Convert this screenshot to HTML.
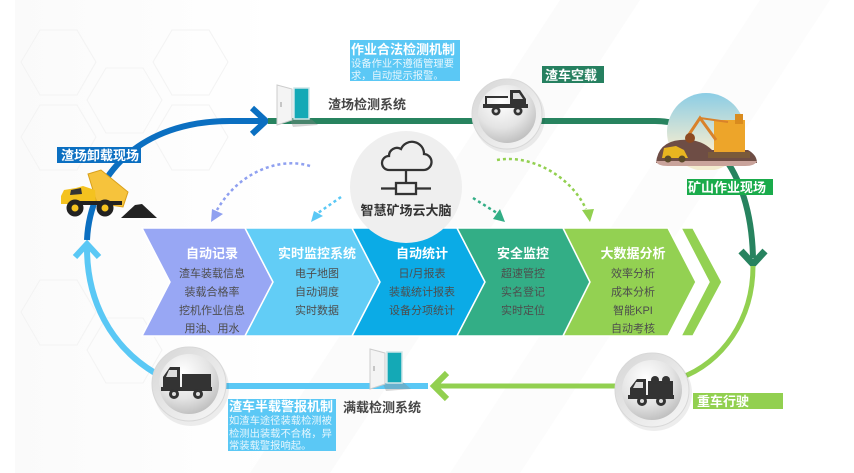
<!DOCTYPE html>
<html><head><meta charset="utf-8">
<style>
html,body{margin:0;padding:0;background:#fff;}
svg{display:block;}
text{font-family:"Liberation Sans","Noto Sans CJK SC",sans-serif;}
.t{font-size:13px;font-weight:bold;fill:#fff;}
.it{font-size:11px;fill:#4d4d4d;text-anchor:middle;}
.ct{font-size:13px;font-weight:bold;fill:#fff;text-anchor:middle;}
.sm{font-size:10.3px;fill:#e6f6fd;}
.lb{font-size:13px;font-weight:bold;fill:#454545;}
</style></head><body>
<svg width="854" height="473" viewBox="0 0 854 473" xmlns="http://www.w3.org/2000/svg">
<defs>
 <radialGradient id="ball" cx="0.4" cy="0.3" r="0.8">
  <stop offset="0" stop-color="#ffffff"/>
  <stop offset="0.55" stop-color="#e4e4e4"/>
  <stop offset="1" stop-color="#b5b5b5"/>
 </radialGradient>
 <linearGradient id="ring" x1="0" y1="0" x2="1" y2="1">
  <stop offset="0" stop-color="#d6d6d6"/>
  <stop offset="1" stop-color="#f7f7f7"/>
 </linearGradient>
 <linearGradient id="sky" x1="0" y1="0" x2="0" y2="1">
  <stop offset="0" stop-color="#86cbe6"/>
  <stop offset="0.75" stop-color="#f4ecd0"/>
 </linearGradient>
 <linearGradient id="bg" x1="0" y1="0" x2="1" y2="0">
  <stop offset="0" stop-color="#f7f7f7"/>
  <stop offset="1" stop-color="#ffffff"/>
 </linearGradient>
 <clipPath id="dome"><circle cx="706" cy="132" r="39"/></clipPath>
</defs>

<!-- background -->
<rect x="0" y="0" width="854" height="473" fill="#fff"/>
<rect x="15" y="0" width="260" height="473" fill="url(#bg)" opacity="0.6"/>
<polygon points="560,0 640,0 330,473 250,473" fill="#fbfbfb"/>
<polygon points="760,0 830,0 520,473 450,473" fill="#fcfcfc"/>
<g fill="none" stroke="#f3f3f3" stroke-width="1">
 <polygon points="40,30 77,30 96,62 77,95 40,95 21,62"/>
 <polygon points="106,68 143,68 162,100 143,133 106,133 87,100"/>
 <polygon points="172,30 209,30 228,62 209,95 172,95 153,62"/>
 <polygon points="40,105 77,105 96,137 77,170 40,170 21,137"/>
 <polygon points="40,280 77,280 96,312 77,345 40,345 21,312"/>
 <polygon points="106,318 143,318 162,350 143,383 106,383 87,350"/>
 <polygon points="172,105 209,105 228,137 209,170 172,170 153,137"/>
</g>

<!-- loop lines -->
<path d="M155 373 C110 346 87 300 87 248" fill="none" stroke="#5ac8f5" stroke-width="6"/>
<polyline points="75,257 87,244 99,257" fill="none" stroke="#5ac8f5" stroke-width="6"/>
<path d="M87 240 C90 175 140 121 230 121 L262 121" fill="none" stroke="#0b6fc1" stroke-width="6"/>
<polyline points="252,108 266,121 252,134" fill="none" stroke="#0b6fc1" stroke-width="6"/>
<path d="M268 121 L655 121 C705 121 751 165 753 258" fill="none" stroke="#27835f" stroke-width="6"/>
<polyline points="741,251 753,264 765,251" fill="none" stroke="#27835f" stroke-width="7"/>
<path d="M753 266 C753 320 722 363 680 378" fill="none" stroke="#92d050" stroke-width="5"/>
<line x1="620" y1="386" x2="436" y2="386" stroke="#92d050" stroke-width="5"/>
<polyline points="447,373 434,386 447,399" fill="none" stroke="#92d050" stroke-width="6"/>
<line x1="428" y1="386" x2="220" y2="386" stroke="#5ac8f5" stroke-width="6"/>

<!-- chevrons -->
<g stroke="#fff" stroke-width="1.5">
 <polygon points="142,228 245,228 273,282 245,336 142,336 170,282" fill="#98a7f4"/>
 <polygon points="245,228 352,228 380,282 352,336 245,336 273,282" fill="#62cdf6"/>
 <polygon points="352,228 457,228 485,282 457,336 352,336 380,282" fill="#0babe6"/>
 <polygon points="457,228 563,228 590,282 563,336 457,336 485,282" fill="#33ae86"/>
 <polygon points="563,228 668,228 696,282 668,336 563,336 590,282" fill="#93d152"/>
 <polygon points="681,228 693,228 722,282 693,336 681,336 709,282" fill="#93d152"/>
</g>

<!-- central circle -->
<circle cx="406" cy="187" r="56" fill="#efefef"/>
<g fill="none" stroke="#333" stroke-width="2.3">
 <path d="M389 170 H423 A8 8 0 0 0 424 154 A12 12 0 0 0 401 149 A8 8 0 0 0 389 156 A7 7 0 0 0 389 170 Z"/>
 <line x1="406" y1="170" x2="406" y2="183"/>
 <rect x="396" y="183" width="20" height="11"/>
 <line x1="381" y1="188.5" x2="396" y2="188.5"/>
 <line x1="416" y1="188.5" x2="431" y2="188.5"/>
</g>
<text x="406" y="215" text-anchor="middle" style="font-size:13px;font-weight:bold;fill:#333">智慧矿场云大脑</text>

<!-- chevron texts -->
<text class="ct" x="212" y="258">自动记录</text>
<text class="it" x="212" y="277">渣车装载信息</text>
<text class="it" x="212" y="295.5">装载合格率</text>
<text class="it" x="212" y="314">挖机作业信息</text>
<text class="it" x="212" y="332">用油、用水</text>

<text class="ct" x="317" y="258">实时监控系统</text>
<text class="it" x="317" y="277">电子地图</text>
<text class="it" x="317" y="295.5">自动调度</text>
<text class="it" x="317" y="314">实时数据</text>

<text class="ct" x="422" y="258">自动统计</text>
<text class="it" x="422" y="277">日/月报表</text>
<text class="it" x="422" y="295.5">装载统计报表</text>
<text class="it" x="422" y="314">设备分项统计</text>

<text class="ct" x="523" y="258">安全监控</text>
<text class="it" x="523" y="277">超速管控</text>
<text class="it" x="523" y="295.5">实名登记</text>
<text class="it" x="523" y="314">实时定位</text>

<text class="ct" x="633" y="258">大数据分析</text>
<text class="it" x="633" y="277">效率分析</text>
<text class="it" x="633" y="295.5">成本分析</text>
<text class="it" x="633" y="314">智能KPI</text>
<text class="it" x="633" y="332">自动考核</text>

<!-- dotted arrows -->
<g fill="none" stroke-width="2.5" stroke-dasharray="3 3">
 <path d="M310 166 C282 157 240 170 217 210" stroke="#8fa0f0"/>
 <path d="M341 197 L318 213" stroke="#5ac8f5"/>
 <path d="M473 198 L497 213" stroke="#33ae86"/>
 <path d="M497 160 C530 154 570 175 586 209" stroke="#92d050"/>
</g>
<polygon points="211,222 212,209 223,214" fill="#8fa0f0"/>
<polygon points="311,222 314,211 323,216" fill="#5ac8f5"/>
<polygon points="505,222 493,219 500,209" fill="#33ae86"/>
<polygon points="590,222 582,210 594,209" fill="#92d050"/>

<!-- doors -->
<g>
 <polygon points="290,120 310,118 318,125 293,127" fill="#888" opacity="0.35"/>
 <rect x="294" y="88" width="15" height="31" fill="#14a9b6" stroke="#cfe6e8" stroke-width="1.5"/>
 <polygon points="277,85 292,89 292,120 277,125" fill="#f4f4f4" stroke="#cccccc" stroke-width="1"/>
 <line x1="281" y1="102" x2="281" y2="107" stroke="#999" stroke-width="1"/>
</g>
<g transform="translate(93,264)">
 <polygon points="290,120 310,118 318,125 293,127" fill="#888" opacity="0.35"/>
 <rect x="294" y="88" width="15" height="31" fill="#14a9b6" stroke="#cfe6e8" stroke-width="1.5"/>
 <polygon points="277,85 292,89 292,120 277,125" fill="#f4f4f4" stroke="#cccccc" stroke-width="1"/>
 <line x1="281" y1="102" x2="281" y2="107" stroke="#999" stroke-width="1"/>
</g>

<!-- truck circles -->
<g>
 <circle cx="509" cy="117" r="36" fill="#000" opacity="0.07"/>
 <circle cx="507" cy="114" r="35" fill="url(#ring)" stroke="#d8d8d8" stroke-width="1"/>
 <circle cx="507" cy="114" r="29" fill="url(#ball)"/>
 <path d="M510 90 H520 L526 99 V106 H510 Z" fill="#333"/>
 <polygon points="513,93 519,93 523,99 513,99" fill="#ddd"/>
 <path d="M486 96 V105 H510 M486 97 H508" fill="none" stroke="#333" stroke-width="2"/>
 <rect x="483" y="104" width="45" height="4" fill="#333"/>
 <circle cx="496" cy="111" r="4.5" fill="#333"/><circle cx="496" cy="111" r="1.8" fill="#ddd"/>
 <circle cx="518" cy="111" r="4.5" fill="#333"/><circle cx="518" cy="111" r="1.8" fill="#ddd"/>
</g>
<g>
 <circle cx="191" cy="388" r="38" fill="#000" opacity="0.07"/>
 <circle cx="189" cy="384" r="37" fill="url(#ring)" stroke="#d8d8d8" stroke-width="1"/>
 <circle cx="189" cy="384" r="30" fill="url(#ball)"/>
 <path d="M180 367 H170 L163 377 V389 H180 Z" fill="#333"/>
 <polygon points="169,370 177,370 177,377 166,377" fill="#ddd"/>
 <rect x="182" y="374" width="29" height="14" fill="#333"/>
 <rect x="161" y="387" width="51" height="4" fill="#333"/>
 <circle cx="174" cy="394" r="5" fill="#333"/><circle cx="174" cy="394" r="2" fill="#ddd"/>
 <circle cx="198" cy="394" r="5" fill="#333"/><circle cx="198" cy="394" r="2" fill="#ddd"/>
</g>
<g>
 <circle cx="654" cy="393" r="38" fill="#000" opacity="0.07"/>
 <circle cx="652" cy="390" r="37" fill="url(#ring)" stroke="#d8d8d8" stroke-width="1"/>
 <circle cx="652" cy="390" r="30" fill="url(#ball)"/>
 <path d="M646 379 H637 L630 388 V397 H646 Z" fill="#333"/>
 <polygon points="636,382 643,382 643,388 633,388" fill="#ddd"/>
 <rect x="648" y="381" width="25" height="15" fill="#333"/>
 <circle cx="655" cy="380" r="4" fill="#333"/><circle cx="666" cy="380" r="4" fill="#333"/>
 <rect x="628" y="395" width="46" height="4" fill="#333"/>
 <circle cx="642" cy="401" r="5" fill="#333"/><circle cx="642" cy="401" r="2" fill="#ddd"/>
 <circle cx="661" cy="401" r="5" fill="#333"/><circle cx="661" cy="401" r="2" fill="#ddd"/>
</g>

<!-- mine scene -->
<g>
 <g clip-path="url(#dome)">
  <rect x="660" y="90" width="95" height="80" fill="url(#sky)"/>
 </g>
 <path d="M656 163 Q658 142 680 140 Q700 138 712 150 L748 150 Q757 155 757 163 Z" fill="#6e4d45"/>
 <path d="M656 161 L757 161 Q755 166 745 166 L668 166 Q657 166 656 161 Z" fill="#c9a39b"/>
 <rect x="714" y="120" width="31" height="34" fill="#eda52a"/>
 <rect x="735" y="114" width="8" height="10" fill="#d98b1e"/>
 <polyline points="716,140 700,118 688,136" fill="none" stroke="#d9822a" stroke-width="3"/>
 <line x1="700" y1="118" x2="728" y2="122" stroke="#d9822a" stroke-width="2"/>
 <circle cx="690" cy="138" r="5" fill="#8c4a22"/>
 <rect x="708" y="152" width="42" height="6" fill="#7a5a3a"/>
 <path d="M662 158 L664 148 L676 146 L684 150 L688 158 Z" fill="#e8b520"/>
 <circle cx="668" cy="159" r="3.5" fill="#5a4a2a"/><circle cx="682" cy="159" r="3.5" fill="#5a4a2a"/>
</g>

<!-- dump truck -->
<g>
 <polygon points="88,174 101,170 128,192 123,207 97,203" fill="#f6c33c" stroke="#d8a01c" stroke-width="1"/>
 <path d="M61,204 L61,196 L64,190 L76,188 L83,186 L95,190 L96,204 Z" fill="#f4c21f"/>
 <polygon points="71,190 81,188 82,194 70,195" fill="#333"/>
 <rect x="70" y="201" width="52" height="4" fill="#222"/>
 <circle cx="75" cy="208" r="8.5" fill="#222"/><circle cx="75" cy="208" r="3.5" fill="#f4c21f"/>
 <circle cx="105" cy="208" r="8.5" fill="#222"/><circle cx="105" cy="208" r="3.5" fill="#f4c21f"/>
 <polygon points="121,218 135,205 142,204 157,218" fill="#222"/>
</g>

<!-- labels -->
<rect x="350" y="40" width="110" height="41" fill="#5bc8f5"/>
<text class="t" x="351" y="54">作业合法检测机制</text>
<text class="sm" x="351" y="67">设备作业不遵循管理要</text>
<text class="sm" x="351" y="79">求，自动提示报警。</text>

<text class="lb" x="328" y="109">渣场检测系统</text>

<rect x="542" y="66" width="62" height="17" fill="#268060"/>
<text class="t" x="545" y="80">渣车空载</text>

<rect x="687" y="179" width="86" height="16" fill="#1aab4b"/>
<text class="t" x="688" y="192">矿山作业现场</text>

<rect x="57" y="147" width="84" height="16" fill="#0b6fc1"/>
<text class="t" x="61" y="160">渣场卸载现场</text>

<rect x="693" y="393" width="90" height="16" fill="#92d050"/>
<text class="t" x="697" y="406">重车行驶</text>

<rect x="228" y="399" width="108" height="52" fill="#5bc8f5"/>
<text class="t" x="229" y="411">渣车半载警报机制</text>
<text class="sm" x="229" y="424">如渣车途径装载检测被</text>
<text class="sm" x="229" y="437">检测出装载不合格，异</text>
<text class="sm" x="229" y="449">常装载警报响起。</text>

<text class="lb" x="343" y="412">满载检测系统</text>
</svg>
</body></html>
